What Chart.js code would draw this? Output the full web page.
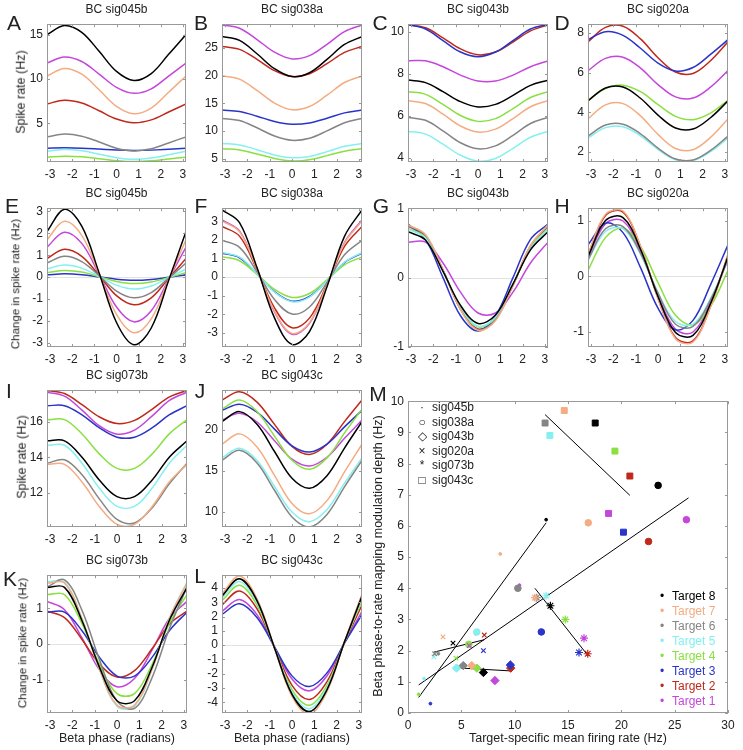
<!DOCTYPE html>
<html>
<head>
<meta charset="utf-8">
<script src="https://cdn.jsdelivr.net/npm/chart.js@4.4.0/dist/chart.umd.min.js"></script>
<style>
  body { margin: 0; background: #fff; }
  #fig { position: relative; width: 743px; height: 750px; overflow: hidden;
         font-family: "Liberation Sans", Arial, Helvetica, sans-serif; color: #222; }
  #fig canvas { position: absolute; }
  .lbl { position: absolute; white-space: nowrap; line-height: 1; }
</style>
</head>
<body>
<div id="fig"></div>
<script>
// phase samples (radians) shared by every tuning curve
const phase = [-3.1416, -2.3562, -1.5708, -0.7854, 0, 0.7854, 1.5708, 2.3562, 3.1416];
const phaseTicks = [-3, -2, -1, 0, 1, 2, 3];

// every curve list below is in target order: Target 1 ... Target 8
const targets = ['Target 1', 'Target 2', 'Target 3', 'Target 4', 'Target 5', 'Target 6', 'Target 7', 'Target 8'];
const targetColors = ['#c446dc', '#c0281c', '#2a34c8', '#8ae040', '#84f0f0', '#858585', '#f4ac82', '#000000'];

// A - BC sig045b spike rate
const rate045b = [
  [11.82, 12.50, 11.99, 10.57, 9.08, 8.40, 8.91, 10.35, 11.82],
  [7.20, 7.62, 7.30, 6.43, 5.50, 5.08, 5.40, 6.29, 7.20],
  [2.20, 2.25, 2.21, 2.11, 2.00, 1.95, 1.99, 2.09, 2.20],
  [1.20, 1.30, 1.23, 1.02, 0.80, 0.70, 0.78, 0.99, 1.20],
  [1.87, 2.05, 1.91, 1.53, 1.13, 0.95, 1.09, 1.47, 1.87],
  [3.49, 3.80, 3.56, 2.91, 2.21, 1.90, 2.14, 2.80, 3.49],
  [10.36, 11.20, 10.56, 8.80, 6.94, 6.10, 6.74, 8.52, 10.36],
  [15.03, 16.05, 15.28, 13.14, 10.87, 9.85, 10.63, 12.80, 15.03]
];
// E - BC sig045b change in spike rate
const change045b = [
  [1.37, 2.05, 1.54, 0.12, -1.37, -2.05, -1.54, -0.10, 1.37],
  [0.85, 1.27, 0.95, 0.08, -0.85, -1.27, -0.95, -0.06, 0.85],
  [0.10, 0.15, 0.11, 0.01, -0.10, -0.15, -0.11, -0.01, 0.10],
  [0.20, 0.30, 0.23, 0.02, -0.20, -0.30, -0.23, -0.02, 0.20],
  [0.37, 0.55, 0.41, 0.03, -0.37, -0.55, -0.41, -0.03, 0.37],
  [0.64, 0.95, 0.71, 0.06, -0.64, -0.95, -0.71, -0.05, 0.64],
  [1.71, 2.55, 1.91, 0.15, -1.71, -2.55, -1.91, -0.13, 1.71],
  [2.08, 3.10, 2.33, 0.19, -2.08, -3.10, -2.33, -0.16, 2.08]
];
// B - BC sig038a
const rate038a = [
  [29.17, 28.58, 26.53, 24.24, 23.03, 23.62, 25.67, 27.96, 29.17],
  [25.27, 24.75, 22.94, 20.90, 19.83, 20.35, 22.17, 24.20, 25.27],
  [13.79, 13.54, 12.68, 11.72, 11.21, 11.46, 12.32, 13.28, 13.79],
  [6.79, 6.58, 5.85, 5.04, 4.61, 4.82, 5.55, 6.36, 6.79],
  [7.74, 7.49, 6.63, 5.67, 5.16, 5.41, 6.27, 7.23, 7.74],
  [12.28, 11.90, 10.58, 9.10, 8.32, 8.70, 10.02, 11.50, 12.28],
  [19.97, 19.38, 17.33, 15.04, 13.83, 14.42, 16.47, 18.76, 19.97],
  [27.06, 26.37, 23.96, 21.26, 19.84, 20.53, 22.94, 25.64, 27.06]
];
// F
const change038a = [
  [3.07, 2.48, 0.43, -1.86, -3.07, -2.48, -0.43, 1.86, 3.07],
  [2.72, 2.20, 0.39, -1.65, -2.72, -2.20, -0.39, 1.65, 2.72],
  [1.29, 1.04, 0.18, -0.78, -1.29, -1.04, -0.18, 0.78, 1.29],
  [1.09, 0.88, 0.15, -0.66, -1.09, -0.88, -0.15, 0.66, 1.09],
  [1.32, 1.07, 0.19, -0.80, -1.32, -1.07, -0.19, 0.80, 1.32],
  [1.98, 1.60, 0.28, -1.20, -1.98, -1.60, -0.28, 1.20, 1.98],
  [3.02, 2.44, 0.43, -1.83, -3.02, -2.44, -0.43, 1.83, 3.02],
  [3.61, 2.92, 0.51, -2.19, -3.61, -2.92, -0.51, 2.19, 3.61]
];
// C - BC sig043b
const rate043b = [
  [8.63, 8.63, 8.35, 7.95, 7.67, 7.67, 7.95, 8.35, 8.63],
  [10.34, 10.21, 9.73, 9.20, 8.92, 9.05, 9.53, 10.06, 10.34],
  [10.37, 10.15, 9.60, 9.05, 8.83, 9.05, 9.60, 10.15, 10.37],
  [7.16, 7.03, 6.55, 6.02, 5.74, 5.87, 6.35, 6.88, 7.16],
  [5.26, 5.13, 4.65, 4.12, 3.84, 3.97, 4.45, 4.98, 5.26],
  [5.93, 5.79, 5.29, 4.72, 4.43, 4.57, 5.07, 5.64, 5.93],
  [6.73, 6.59, 6.09, 5.52, 5.23, 5.37, 5.87, 6.44, 6.73],
  [7.71, 7.59, 7.16, 6.68, 6.43, 6.55, 6.98, 7.46, 7.71]
];
// G
const change043b = [
  [0.51, 0.51, 0.21, -0.21, -0.51, -0.51, -0.21, 0.21, 0.51],
  [0.74, 0.60, 0.11, -0.45, -0.74, -0.60, -0.11, 0.45, 0.74],
  [0.77, 0.55, 0.00, -0.55, -0.77, -0.55, 0.00, 0.55, 0.77],
  [0.71, 0.58, 0.10, -0.43, -0.71, -0.58, -0.10, 0.43, 0.71],
  [0.70, 0.57, 0.10, -0.42, -0.70, -0.57, -0.10, 0.42, 0.70],
  [0.75, 0.61, 0.11, -0.46, -0.75, -0.61, -0.11, 0.46, 0.75],
  [0.76, 0.62, 0.11, -0.46, -0.76, -0.62, -0.11, 0.46, 0.76],
  [0.66, 0.54, 0.09, -0.40, -0.66, -0.54, -0.09, 0.40, 0.66]
];
// D - BC sig020a
const rate020a = [
  [6.10, 6.72, 6.78, 6.23, 5.40, 4.78, 4.72, 5.27, 6.10],
  [7.55, 8.28, 8.34, 7.70, 6.75, 6.03, 5.96, 6.60, 7.55],
  [7.66, 8.06, 7.88, 7.23, 6.48, 6.08, 6.26, 6.92, 7.66],
  [4.61, 5.20, 5.37, 5.04, 4.39, 3.80, 3.63, 3.96, 4.61],
  [2.71, 3.23, 3.28, 2.82, 2.13, 1.61, 1.57, 2.02, 2.71],
  [2.80, 3.36, 3.40, 2.92, 2.20, 1.65, 1.60, 2.08, 2.80],
  [3.67, 4.38, 4.44, 3.82, 2.89, 2.18, 2.12, 2.74, 3.67],
  [4.58, 5.23, 5.28, 4.71, 3.86, 3.21, 3.16, 3.73, 4.58]
];
// H
const change020a = [
  [0.34, 0.95, 1.00, 0.46, -0.34, -0.95, -1.00, -0.46, 0.34],
  [0.39, 1.10, 1.16, 0.54, -0.39, -1.10, -1.16, -0.54, 0.39],
  [0.57, 0.96, 0.79, 0.16, -0.57, -0.96, -0.79, -0.15, 0.57],
  [0.11, 0.70, 0.87, 0.54, -0.11, -0.70, -0.87, -0.54, 0.11],
  [0.29, 0.81, 0.86, 0.40, -0.29, -0.81, -0.86, -0.40, 0.29],
  [0.30, 0.86, 0.90, 0.42, -0.30, -0.86, -0.90, -0.42, 0.30],
  [0.40, 1.12, 1.18, 0.55, -0.40, -1.12, -1.18, -0.55, 0.40],
  [0.36, 1.01, 1.06, 0.49, -0.36, -1.01, -1.06, -0.49, 0.36]
];
// I - BC sig073b
const rate073b = [
  [17.69, 17.46, 16.67, 15.78, 15.31, 15.54, 16.33, 17.22, 17.69],
  [17.79, 17.61, 16.98, 16.28, 15.91, 16.09, 16.72, 17.42, 17.79],
  [16.92, 16.92, 16.40, 15.66, 15.14, 15.14, 15.66, 16.41, 16.92],
  [16.13, 16.13, 15.32, 14.18, 13.37, 13.37, 14.18, 15.34, 16.13],
  [14.68, 14.68, 13.66, 12.24, 11.22, 11.22, 12.24, 13.68, 14.68],
  [13.66, 13.86, 13.01, 11.63, 10.48, 10.28, 11.13, 12.51, 13.66],
  [13.60, 13.60, 12.60, 11.20, 10.20, 10.20, 11.20, 12.62, 13.60],
  [14.93, 14.93, 14.00, 12.70, 11.77, 11.77, 12.70, 14.02, 14.93]
];
// K
const change073b = [
  [1.19, 0.96, 0.17, -0.72, -1.19, -0.96, -0.17, 0.72, 1.19],
  [0.92, 0.74, 0.13, -0.56, -0.92, -0.74, -0.13, 0.56, 0.92],
  [0.89, 0.89, 0.37, -0.37, -0.89, -0.89, -0.37, 0.38, 0.89],
  [1.38, 1.38, 0.57, -0.57, -1.38, -1.38, -0.57, 0.59, 1.38],
  [1.73, 1.73, 0.71, -0.71, -1.73, -1.73, -0.71, 0.73, 1.73],
  [1.59, 1.79, 0.94, -0.44, -1.59, -1.79, -0.94, 0.44, 1.59],
  [1.70, 1.70, 0.70, -0.70, -1.70, -1.70, -0.70, 0.72, 1.70],
  [1.58, 1.58, 0.65, -0.65, -1.58, -1.58, -0.65, 0.67, 1.58]
];
// J - BC sig043c
const rate043c = [
  [21.17, 22.00, 20.94, 18.67, 16.43, 15.60, 16.66, 18.96, 21.17],
  [23.61, 24.60, 23.35, 20.65, 17.99, 17.00, 18.25, 20.99, 23.61],
  [22.35, 23.10, 22.14, 20.08, 18.05, 17.30, 18.26, 20.35, 22.35],
  [22.51, 23.60, 22.21, 19.23, 16.29, 15.20, 16.59, 19.61, 22.51],
  [16.59, 17.75, 16.28, 13.12, 10.01, 8.85, 10.32, 13.52, 16.59],
  [16.29, 17.50, 15.97, 12.66, 9.41, 8.20, 9.73, 13.08, 16.29],
  [18.24, 19.50, 17.90, 14.46, 11.06, 9.80, 11.40, 14.89, 18.24],
  [20.99, 22.20, 20.67, 17.36, 14.11, 12.90, 14.43, 17.78, 20.99]
];
// L
const change043c = [
  [2.37, 3.20, 2.14, -0.13, -2.37, -3.20, -2.14, 0.16, 2.37],
  [2.81, 3.80, 2.55, -0.15, -2.81, -3.80, -2.55, 0.19, 2.81],
  [2.15, 2.90, 1.94, -0.12, -2.15, -2.90, -1.94, 0.15, 2.15],
  [3.11, 4.20, 2.81, -0.17, -3.11, -4.20, -2.81, 0.21, 3.11],
  [3.29, 4.45, 2.98, -0.18, -3.29, -4.45, -2.98, 0.22, 3.29],
  [3.44, 4.65, 3.12, -0.19, -3.44, -4.65, -3.12, 0.23, 3.44],
  [3.59, 4.85, 3.25, -0.19, -3.59, -4.85, -3.25, 0.24, 3.59],
  [3.44, 4.65, 3.12, -0.19, -3.44, -4.65, -3.12, 0.23, 3.44]
];

// M - mean firing rate (x) and modulation depth (y) per target
const signals = ['sig045b', 'sig038a', 'sig043b', 'sig020a', 'sig073b', 'sig043c'];
const meanRate = [
  [10.45, 6.35, 2.1, 1.0, 1.5, 2.85, 8.65, 12.95],
  [26.1, 22.55, 12.5, 5.7, 6.45, 10.3, 16.9, 23.45],
  [8.15, 9.63, 9.6, 6.45, 4.55, 5.18, 5.98, 7.07],
  [5.75, 7.15, 7.07, 4.5, 2.42, 2.5, 3.28, 4.22],
  [16.5, 16.85, 16.03, 14.75, 12.95, 12.07, 11.9, 13.35],
  [18.8, 20.8, 20.2, 19.4, 13.3, 12.85, 14.65, 17.55]
];
const modDepth = [
  [4.1, 2.55, 0.3, 0.6, 1.1, 1.9, 5.1, 6.2],
  [6.2, 5.5, 2.6, 2.2, 2.6, 4.0, 6.1, 7.3],
  [1.04, 1.44, 1.54, 1.44, 1.44, 1.52, 1.52, 1.3],
  [2.16, 2.5, 2.0, 1.76, 1.8, 1.9, 2.44, 2.24],
  [2.4, 1.9, 1.94, 3.0, 3.76, 3.7, 3.7, 3.44],
  [6.4, 7.6, 5.8, 8.4, 8.9, 9.3, 9.7, 9.3]
];
// regression line ends, one per signal
const fitX0 = [1.0, 1.0, 4.55, 2.42, 11.9, 12.85];
const fitY0 = [0.5, 0.9, 1.45, 1.95, 4.0, 9.57];
const fitX1 = [12.95, 26.3, 9.63, 7.15, 16.85, 20.8];
const fitY1 = [6.1, 6.9, 1.35, 2.35, 1.85, 6.98];
const rateTicks = [0, 5, 10, 15, 20, 25, 30];
const depthTicks = [0, 1, 2, 3, 4, 5, 6, 7, 8, 9, 10];

// marker look for each signal
const markerStyle = ['circle', 'circle', 'rectRot', 'crossRot', 'star', 'rect'];
const markerSize = [1.4, 3.3, 4.2, 3.2, 4, 4.2];
const legendGlyph = ['\u00b7', '\u25cb', '\u25c7', '\u00d7', '*', '\u25a1'];

Chart.defaults.font.family = '"Liberation Sans", Arial, Helvetica, sans-serif';
Chart.defaults.font.size = 12;
Chart.defaults.color = '#222';
Chart.defaults.plugins.legend.display = false;
Chart.defaults.plugins.tooltip.enabled = false;

// matlab style box with inward ticks, plus optional light zero line
Chart.register({
  id: 'frame',
  beforeDatasetsDraw(chart, args, opts) {
    if (!opts.zero) return;
    const { ctx, chartArea: a, scales } = chart;
    const py = Math.round(scales.y.getPixelForValue(0)) + 0.5;
    ctx.save();
    ctx.strokeStyle = '#e2e2e2';
    ctx.lineWidth = 1;
    ctx.beginPath();
    ctx.moveTo(a.left, py);
    ctx.lineTo(a.right, py);
    ctx.stroke();
    ctx.restore();
  },
  afterDraw(chart) {
    const { ctx, chartArea: a, scales } = chart;
    const tl = 3;
    ctx.save();
    ctx.strokeStyle = '#999';
    ctx.lineWidth = 1;
    ctx.strokeRect(Math.round(a.left) + 0.5, Math.round(a.top) + 0.5, Math.round(a.width) - 1, Math.round(a.height) - 1);
    ctx.beginPath();
    scales.x.ticks.forEach(t => {
      const px = Math.round(scales.x.getPixelForValue(t.value)) + 0.5;
      ctx.moveTo(px, a.bottom); ctx.lineTo(px, a.bottom - tl);
      ctx.moveTo(px, a.top); ctx.lineTo(px, a.top + tl);
    });
    scales.y.ticks.forEach(t => {
      const py = Math.round(scales.y.getPixelForValue(t.value)) + 0.5;
      ctx.moveTo(a.left, py); ctx.lineTo(a.left + tl, py);
      ctx.moveTo(a.right, py); ctx.lineTo(a.right - tl, py);
    });
    ctx.stroke();
    ctx.restore();
  }
});

const fig = document.getElementById('fig');

function addCanvas(l, t, w, h, pad) {
  const c = document.createElement('canvas');
  c.width = w + pad.l + pad.r;
  c.height = h + pad.t + pad.b;
  c.style.left = (l - pad.l) + 'px';
  c.style.top = (t - pad.t) + 'px';
  fig.appendChild(c);
  return c;
}

// text centred on (x, y)
function label(str, x, y, size, rotate, color) {
  const d = document.createElement('div');
  d.className = 'lbl';
  d.textContent = str;
  d.style.left = x + 'px';
  d.style.top = y + 'px';
  d.style.fontSize = size + 'px';
  if (color) d.style.color = color;
  d.style.transform = 'translate(-50%, -50%)' + (rotate ? ' rotate(-90deg)' : '');
  fig.appendChild(d);
  return d;
}

function scaleOpts(min, max, ticks, pad, isX) {
  return {
    type: 'linear', min: min, max: max,
    grid: { display: false, drawTicks: false },
    border: { display: false },
    ticks: { padding: isX ? 5 : 4, maxRotation: 0, autoSkip: false },
    afterBuildTicks: s => { s.ticks = ticks.map(v => ({ value: v })); },
    afterFit: s => { if (isX) s.height = pad.b; else s.width = pad.l; }
  };
}

const panels = [
  { letter: 'A', lx: 14, ly: 22, title: 'BC sig045b', curves: rate045b, box: [47, 21, 139, 141], y: [0.65, 16.2], yTicks: [5, 10, 15], ylab: 'Spike rate (Hz)', ylx: 21 },
  { letter: 'B', lx: 201, ly: 22, title: 'BC sig038a', curves: rate038a, box: [222, 21, 140, 141], y: [4.4, 29.3], yTicks: [5, 10, 15, 20, 25] },
  { letter: 'C', lx: 380, ly: 22, title: 'BC sig043b', curves: rate043b, box: [408, 21, 140, 141], y: [3.8, 10.38], yTicks: [4, 6, 8, 10] },
  { letter: 'D', lx: 562, ly: 22, title: 'BC sig020a', curves: rate020a, box: [588, 21, 140, 141], y: [1.5, 8.44], yTicks: [2, 4, 6, 8] },
  { letter: 'E', lx: 12, ly: 205, title: 'BC sig045b', curves: change045b, box: [47, 205, 139, 142], y: [-3.2, 3.15], yTicks: [-3, -2, -1, 0, 1, 2, 3], zero: true, ylab: 'Change in spike rate (Hz)', ylx: 16, yly: 284 },
  { letter: 'F', lx: 201, ly: 205, title: 'BC sig038a', curves: change038a, box: [222, 205, 140, 142], y: [-3.75, 3.7], yTicks: [-3, -2, -1, 0, 1, 2, 3], zero: true },
  { letter: 'G', lx: 381, ly: 205, title: 'BC sig043b', curves: change043b, box: [408, 205, 140, 142], y: [-1, 1], yTicks: [-1, 0, 1], zero: true },
  { letter: 'H', lx: 562, ly: 205, title: 'BC sig020a', curves: change020a, box: [588, 205, 140, 142], y: [-1.27, 1.23], yTicks: [-1, 0, 1], zero: true },
  { letter: 'I', lx: 9, ly: 390, title: 'BC sig073b', curves: rate073b, box: [47, 387, 140, 140], y: [10.05, 17.8], yTicks: [12, 14, 16], ylab: 'Spike rate (Hz)', ylx: 22 },
  { letter: 'J', lx: 200, ly: 390, title: 'BC sig043c', curves: rate043c, box: [222, 387, 140, 140], y: [8.2, 24.8], yTicks: [10, 15, 20] },
  { letter: 'K', lx: 10, ly: 578, title: 'BC sig073b', curves: change073b, box: [47, 572, 140, 141], y: [-1.92, 1.92], yTicks: [-1, 0, 1], zero: true, ylab: 'Change in spike rate (Hz)', ylx: 23, xlab: 'Beta phase (radians)' },
  { letter: 'L', lx: 200, ly: 575, title: 'BC sig043c', curves: change043c, box: [222, 572, 140, 141], y: [-4.75, 4.9], yTicks: [-4, -3, -2, -1, 0, 1, 2, 3, 4], zero: true, xlab: 'Beta phase (radians)' }
];

const pad = { l: 40, t: 8, r: 6, b: 22 };

panels.forEach(p => {
  const [l, t, w, h] = p.box;
  const canvas = addCanvas(l, t, w, h, pad);
  new Chart(canvas, {
    type: 'line',
    data: {
      datasets: p.curves.map((vals, i) => ({
        data: vals.map((v, k) => ({ x: phase[k], y: v })),
        borderColor: targetColors[i],
        borderWidth: 1.5,
        pointRadius: 0,
        tension: 0.36,
        fill: false,
        order: targets.length - i
      }))
    },
    options: {
      responsive: false,
      animation: false,
      devicePixelRatio: 1,
      layout: { padding: { left: 0, top: pad.t, right: pad.r, bottom: 0 } },
      plugins: { frame: { zero: !!p.zero } },
      scales: {
        x: scaleOpts(-Math.PI, Math.PI, phaseTicks, pad, true),
        y: scaleOpts(p.y[0], p.y[1], p.yTicks, pad, false)
      }
    }
  });
  label(p.title, l + w / 2, t - 12, 12);
  label(p.letter, p.lx, p.ly, 21);
  if (p.ylab) label(p.ylab, p.ylx, p.yly || t + h / 2, p.ylab.length > 20 ? 11.5 : 12.5, true);
  if (p.xlab) label(p.xlab, l + w / 2, 738, 12.5);
});

// M scatter
const mBox = [408, 398, 320, 315];
const mPad = { l: 40, t: 8, r: 12, b: 22 };
const mCanvas = addCanvas(mBox[0], mBox[1], mBox[2], mBox[3], mPad);

const fitSets = signals.map((s, j) => ({
  type: 'line',
  data: [{ x: fitX0[j], y: fitY0[j] }, { x: fitX1[j], y: fitY1[j] }],
  borderColor: '#000',
  borderWidth: 1,
  pointRadius: 0,
  showLine: true,
  order: 20
}));
const pointSets = signals.map((s, j) => ({
  type: 'scatter',
  data: meanRate[j].map((x, i) => ({ x: x, y: modDepth[j][i] })),
  pointStyle: markerStyle[j],
  pointRadius: markerSize[j],
  backgroundColor: targetColors,
  borderColor: targetColors,
  borderWidth: markerStyle[j] === 'star' || markerStyle[j] === 'crossRot' ? 1.2 : 1,
  order: 10 - j
}));

new Chart(mCanvas, {
  type: 'scatter',
  data: { datasets: fitSets.concat(pointSets) },
  options: {
    responsive: false,
    animation: false,
    devicePixelRatio: 1,
    layout: { padding: { left: 0, top: mPad.t, right: mPad.r, bottom: 0 } },
    plugins: { frame: { zero: false } },
    scales: {
      x: scaleOpts(0, 30, rateTicks, mPad, true),
      y: scaleOpts(0, 10, depthTicks, mPad, false)
    }
  }
});

label('M', 378, 393, 21);
label('Beta phase-to-rate mapping modulation depth (Hz)', 378, mBox[1] + mBox[3] / 2, 12.5, true);
label('Target-specific mean firing rate (Hz)', mBox[0] + mBox[2] / 2, 738, 12.5);

// legend for signals (top left inside M)
signals.forEach((s, j) => {
  const y = mBox[1] + 9 + j * 14.5;
  label(legendGlyph[j], mBox[0] + 14, y, 12);
  const d = label(s, mBox[0] + 24, y, 12);
  d.style.transform = 'translate(0, -50%)';
});

// legend for targets (bottom right inside M), Target 8 on top
for (let i = targets.length - 1; i >= 0; i--) {
  const y = mBox[1] + mBox[3] - 12 - i * 15;
  label('\u2022', 662, y, 12, false, targetColors[i]);
  const d = label(targets[i], 672, y, 12, false, targetColors[i]);
  d.style.transform = 'translate(0, -50%)';
}
</script>
</body>
</html>
